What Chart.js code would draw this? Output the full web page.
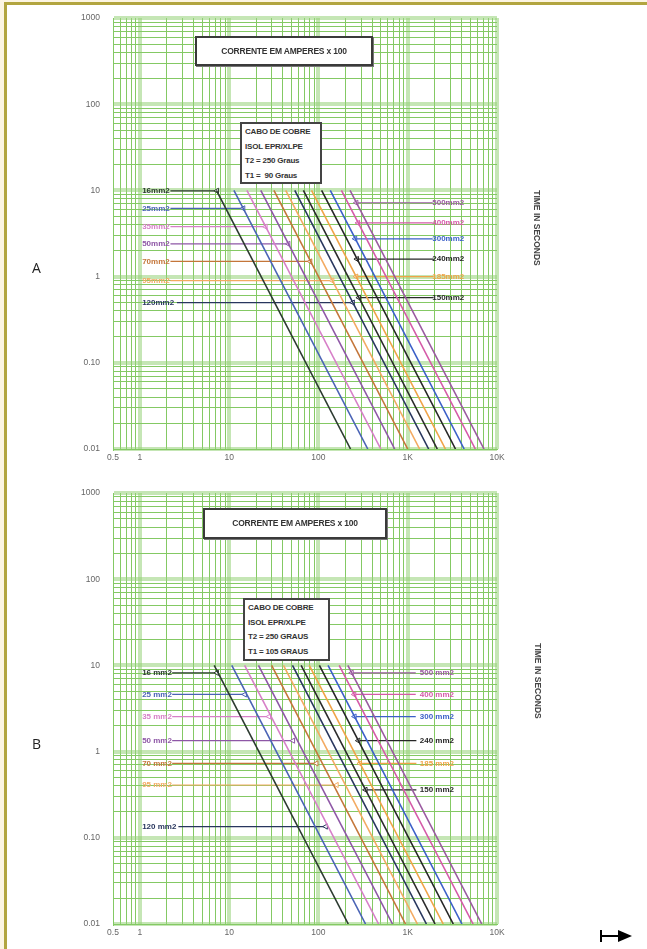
<!DOCTYPE html>
<html>
<head>
<meta charset="utf-8">
<title>Curvas de curto-circuito - cabo de cobre EPR/XLPE</title>
<script src="https://cdn.jsdelivr.net/npm/chart.js@4.4.0/dist/chart.umd.min.js"></script>
<style>
  html, body { margin: 0; padding: 0; }
  body {
    width: 647px; height: 949px; position: relative; overflow: hidden;
    background: #fcf5e2; font-family: 'Liberation Sans', Arial, sans-serif;
  }
  .frame {
    position: absolute; left: 4px; top: 2px; right: 0; bottom: 0;
    border-left: 3px solid #b2a53f; border-top: 3px solid #b2a53f; background: #fff;
  }
  canvas { position: absolute; left: 0; }
  #chartA { top: 0; }
  #chartB { top: 470px; }
  .title-box {
    position: absolute; background: #fff; border: 2px solid #3a3a3a;
    box-shadow: 1px 1px 0 #777; color: #333; font-size: 8.5px; font-weight: bold;
    text-align: center; letter-spacing: -0.2px;
  }
  .info-box {
    position: absolute; background: #fff; border: 2px solid #444; color: #333;
    font-size: 8px; font-weight: bold; line-height: 14.5px; padding: 1px 3px; box-sizing: border-box;
    letter-spacing: -0.2px; white-space: pre;
  }
  .side-label {
    position: absolute; font-size: 8.5px; font-weight: bold; color: #444; white-space: nowrap;
    transform: rotate(90deg); transform-origin: center center;
  }
  .part { position: absolute; font-size: 14px; color: #222; font-family: 'Open Sans', sans-serif; }
</style>
</head>
<body>
<div class="frame"></div>
<canvas id="chartA" width="647" height="470"></canvas>
<canvas id="chartB" width="647" height="479"></canvas>

<div class="title-box" style="left:195px; top:36px; width:174px; height:26px; line-height:26px;">CORRENTE EM AMPERES x 100</div>
<div class="info-box" style="left:240px; top:122px; width:82px; height:62px;">CABO DE COBRE
ISOL EPR/XLPE
T2 = 250 Graus
T1 =  90 Graus</div>
<div class="side-label" style="left:494px; top:223px; width:86px; text-align:center;">TIME IN SECONDS</div>
<div class="part" style="left:32px; top:258px;">A</div>

<div class="title-box" style="left:203px; top:508px; width:180px; height:27px; line-height:27px;">CORRENTE EM AMPERES x 100</div>
<div class="info-box" style="left:243px; top:598px; width:87px; height:63px;">CABO DE COBRE
ISOL EPR/XLPE
T2 = 250 GRAUS
T1 = 105 GRAUS</div>
<div class="side-label" style="left:495px; top:676px; width:86px; text-align:center;">TIME IN SECONDS</div>
<div class="part" style="left:32px; top:734px;">B</div>

<svg style="position:absolute; left:596px; top:926px;" width="40" height="20">
  <line x1="5" y1="4" x2="5" y2="16" stroke="#000" stroke-width="2"/>
  <line x1="5" y1="10" x2="24" y2="10" stroke="#000" stroke-width="2"/>
  <polygon points="22,4 36,10 22,16" fill="#000"/>
</svg>

<script>
// Axis ticks (current in A x 100, time in seconds)
const currentTicks = [0.5, 1, 10, 100, 1000, 10000];
const currentTickLabels = ['0.5', '1', '10', '100', '1K', '10K'];
const timeTicks = [0.01, 0.1, 1, 10, 100, 1000];
const timeTickLabels = ['0.01', '0.10', '1', '10', '100', '1000'];
const gridSteps = [1, 2, 3, 4, 5, 6, 7, 8, 9];

// Cable sections and their colours
const sections = ['16', '25', '35', '50', '70', '95', '120', '150', '185', '240', '300', '400', '500'];
const sectionColors = ['#2c3a30', '#4a63b5', '#d77fc8', '#8e57a6', '#c4763a', '#f3aa62', '#28365e',
  '#2a2a2a', '#f0a347', '#262626', '#3b5fc8', '#d55aa8', '#9a5aa0'];

// Each curve runs from t = 10 s down to t = 0.01 s
const curveTimes = [10, 0.01];

// Chart A (T1 = 90 graus): current x 100 at 10 s and at 0.01 s
const ampsAt10sA = [7.2, 11.3, 15.8, 22.6, 31.7, 43.0, 54.3, 67.8, 83.7, 108.5, 135.7, 180.9, 226];
const ampsAt001sA = [229, 357, 500, 715, 1000, 1360, 1716, 2145, 2646, 3430, 4290, 5720, 7150];

// Chart B (T1 = 105 graus)
const ampsAt10sB = [6.8, 10.7, 14.9, 21.3, 29.9, 40.6, 51.2, 64.0, 79.0, 102.5, 128.1, 170.8, 213.5];
const ampsAt001sB = [216, 337, 472, 675, 945, 1283, 1620, 2024, 2498, 3240, 4050, 5400, 6750];

// Labels with leader lines, chart A
const leftLabelsA = ['16mm2', '25mm2', '35mm2', '50mm2', '70mm2', '95mm2', '120mm2'];
const leftTimesA = [9.9, 6.2, 3.8, 2.4, 1.5, 0.9, 0.5];
const leftFromA = [2.2, 2.2, 2.2, 2.2, 2.2, 2.2, 2.6];
const leftArrowA = [7.3, 14.4, 25.6, 46, 81, 143, 243];
const rightLabelsA = ['500mm2', '400mm2', '300mm2', '240mm2', '185mm2', '150mm2'];
const rightTimesA = [7.2, 4.2, 2.75, 1.6, 1.0, 0.57];
const rightArrowA = [266, 278, 258, 270, 265, 284];
const rightToA = [1900, 1900, 1900, 1950, 1950, 1950];

// Labels with leader lines, chart B
const leftLabelsB = ['16 mm2', '25 mm2', '35 mm2', '50 mm2', '70 mm2', '95 mm2', '120 mm2'];
const leftTimesB = [8.2, 4.6, 2.55, 1.34, 0.73, 0.41, 0.135];
const leftFromB = [2.3, 2.3, 2.3, 2.3, 2.3, 2.3, 2.7];
const leftArrowB = [7.3, 15, 28, 52, 95, 160, 121];
const rightLabelsB = ['500 mm2', '400 mm2', '300 mm2', '240 mm2', '185 mm2', '150 mm2'];
const rightTimesB = [8.2, 4.6, 2.55, 1.34, 0.73, 0.36];
const rightArrowB = [236, 252, 254, 280, 292, 337];
const rightToB = [1230, 1230, 1230, 1250, 1250, 1250];

const leftTextAmp = 1.06;
const rightTextAmpA = 4300;
const rightTextAmpB = 3300;

function colorFor(label) {
  const name = label.replace(/\s*mm2/, '');
  return sectionColors[sections.indexOf(name)] || '#333';
}

function gridValues(min, max) {
  const vals = [];
  for (let e = -2; e <= 4; e++) {
    gridSteps.forEach(s => {
      const v = +(s * Math.pow(10, e)).toPrecision(6);
      if (v >= min - 1e-12 && v <= max + 1e-12) vals.push(v);
    });
  }
  return vals;
}

function isDecade(v) {
  const l = Math.log10(v);
  return Math.abs(l - Math.round(l)) < 1e-6;
}

function labelFor(value, ticks, labels) {
  const i = ticks.findIndex(t => Math.abs(t - value) / t < 1e-6);
  return i >= 0 ? labels[i] : '';
}

const leaderText = {
  id: 'leaderText',
  afterDatasetsDraw(chart, args, opts) {
    const ctx = chart.ctx;
    const xs = chart.scales.x, ys = chart.scales.y;
    ctx.save();
    ctx.font = 'bold 8px "Liberation Sans", Arial, sans-serif';
    ctx.textBaseline = 'middle';
    opts.items.forEach(it => {
      ctx.fillStyle = it.color;
      ctx.textAlign = it.align;
      ctx.fillText(it.text, xs.getPixelForValue(it.x), ys.getPixelForValue(it.y));
    });
    ctx.restore();
  }
};

function buildChart(id, amps10, amps001, left, right, padTop, padBottom) {
  const datasets = sections.map((s, i) => ({
    label: s + ' mm2',
    data: [{ x: amps10[i], y: curveTimes[0] }, { x: amps001[i], y: curveTimes[1] }],
    borderColor: sectionColors[i],
    borderWidth: 1.6,
    pointRadius: 0
  }));
  const items = [];
  left.labels.forEach((lab, i) => {
    const c = colorFor(lab);
    datasets.push({
      data: [{ x: left.from[i], y: left.times[i] }, { x: left.arrow[i], y: left.times[i] }],
      borderColor: c, backgroundColor: '#fff', borderWidth: 1.2,
      pointRadius: [0, 3], pointStyle: 'triangle', pointRotation: -90, pointBorderWidth: 1
    });
    items.push({ text: lab, x: leftTextAmp, y: left.times[i], align: 'left', color: c });
  });
  right.labels.forEach((lab, i) => {
    const c = colorFor(lab);
    datasets.push({
      data: [{ x: right.arrow[i], y: right.times[i] }, { x: right.to[i], y: right.times[i] }],
      borderColor: c, backgroundColor: '#fff', borderWidth: 1.2,
      pointRadius: [3, 0], pointStyle: 'triangle', pointRotation: -90, pointBorderWidth: 1
    });
    items.push({ text: lab, x: right.textAmp, y: right.times[i], align: 'right', color: c });
  });

  const gridColor = ctx => isDecade(ctx.tick.value) ? 'rgba(150,210,120,0.55)' : '#84c964';
  const gridWidth = ctx => isDecade(ctx.tick.value) ? 4 : 1;

  return new Chart(document.getElementById(id), {
    type: 'line',
    data: { datasets },
    plugins: [leaderText],
    options: {
      responsive: false,
      animation: false,
      devicePixelRatio: 1,
      layout: { padding: { top: padTop, bottom: padBottom, left: 0, right: 150 } },
      plugins: {
        legend: { display: false },
        tooltip: { enabled: false },
        leaderText: { items }
      },
      elements: { line: { tension: 0 } },
      scales: {
        x: {
          type: 'logarithmic', min: 0.5, max: 10000,
          afterBuildTicks: sc => { sc.ticks = gridValues(0.5, 10000).map(v => ({ value: v })); },
          afterFit: sc => { sc.height = 21; },
          grid: { color: gridColor, lineWidth: gridWidth, drawTicks: false },
          border: { display: true, color: '#84c964', width: 1 },
          ticks: {
            autoSkip: false, maxRotation: 0, minRotation: 0, padding: 4,
            color: '#666', font: { family: 'Liberation Sans', size: 8.5 },
            callback: v => labelFor(v, currentTicks, currentTickLabels)
          }
        },
        y: {
          type: 'logarithmic', min: 0.01, max: 1000,
          afterBuildTicks: sc => { sc.ticks = gridValues(0.01, 1000).map(v => ({ value: v })); },
          afterFit: sc => { sc.width = 113; },
          grid: { color: gridColor, lineWidth: gridWidth, drawTicks: false },
          border: { display: true, color: '#84c964', width: 1 },
          ticks: {
            autoSkip: false, padding: 13,
            color: '#666', font: { family: 'Liberation Sans', size: 8.5 },
            callback: v => labelFor(v, timeTicks, timeTickLabels)
          }
        }
      }
    }
  });
}

buildChart('chartA', ampsAt10sA, ampsAt001sA,
  { labels: leftLabelsA, times: leftTimesA, from: leftFromA, arrow: leftArrowA },
  { labels: rightLabelsA, times: rightTimesA, arrow: rightArrowA, to: rightToA, textAmp: rightTextAmpA },
  16, 0);

buildChart('chartB', ampsAt10sB, ampsAt001sB,
  { labels: leftLabelsB, times: leftTimesB, from: leftFromB, arrow: leftArrowB },
  { labels: rightLabelsB, times: rightTimesB, arrow: rightArrowB, to: rightToB, textAmp: rightTextAmpB },
  23, 4);
</script>
</body>
</html>
